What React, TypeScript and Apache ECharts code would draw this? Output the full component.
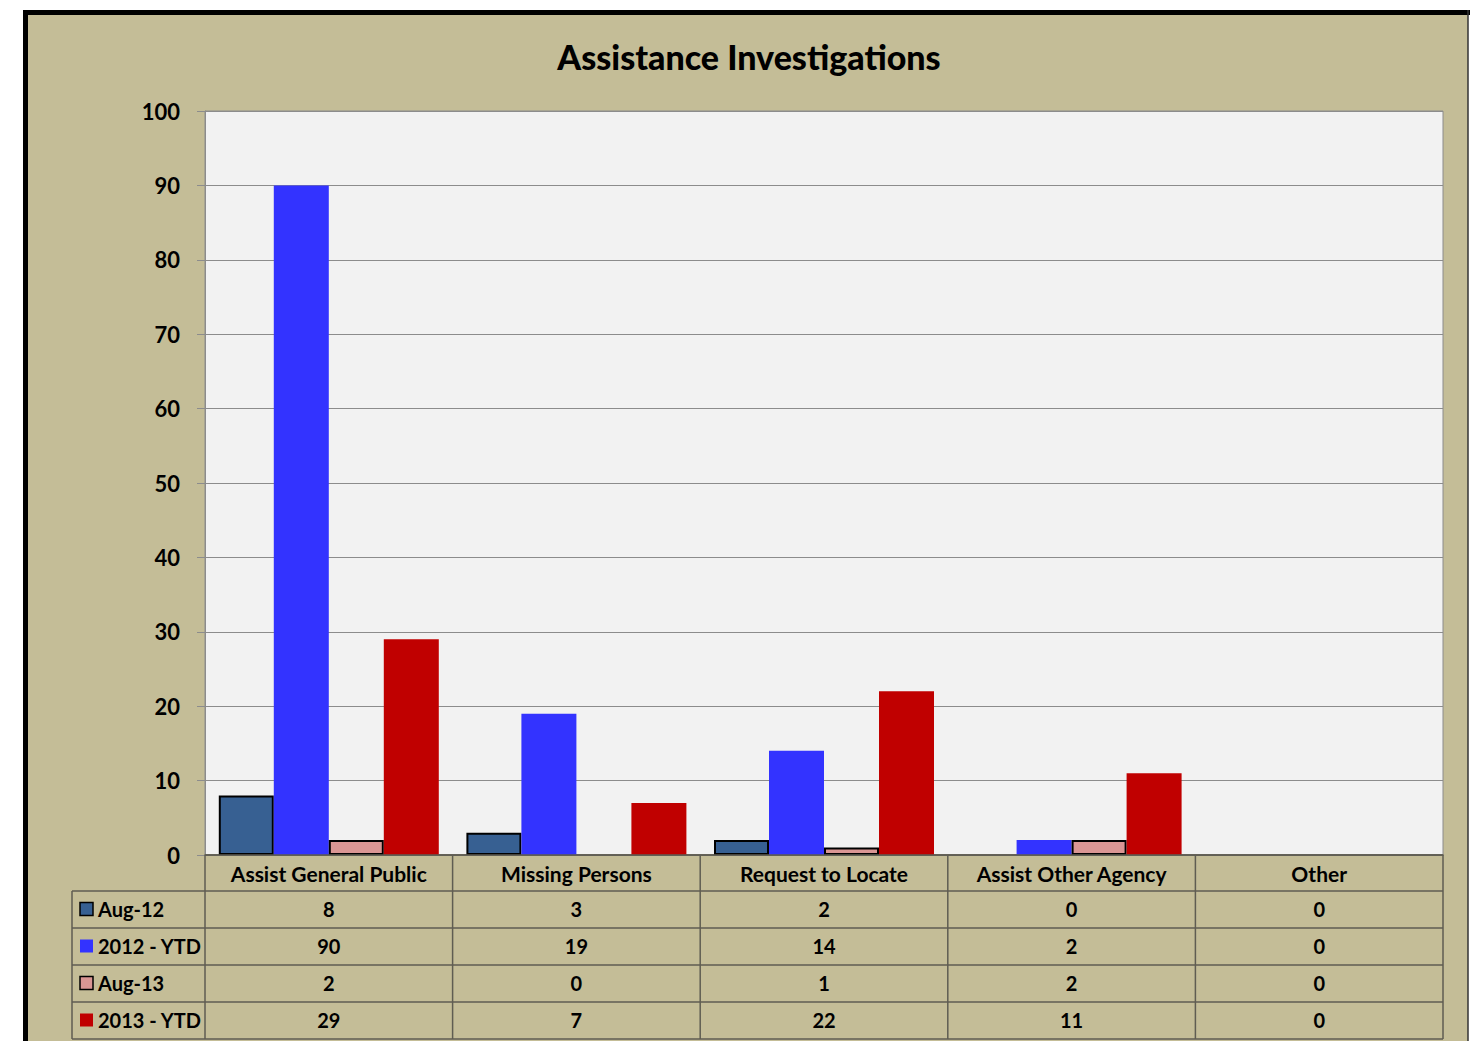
import React, { useEffect, useRef } from "react";
import * as echarts from "echarts";

const categories = ["Assist General Public", "Missing Persons", "Request to Locate", "Assist Other Agency", "Other"];
const seriesNames = ["Aug-12", "2012 - YTD", "Aug-13", "2013 - YTD"];
const aug12 = [8, 3, 2, 0, 0];
const ytd2012 = [90, 19, 14, 2, 0];
const aug13 = [2, 0, 1, 2, 0];
const ytd2013 = [29, 7, 22, 11, 0];
const seriesValues = [aug12, ytd2012, aug13, ytd2013];
const seriesColors = ["#376092", "#3333FF", "#DA9694", "#C00000"];
const seriesBorders = [true, false, true, false];

const W = 1470;
const H = 1041;
const FONT = "Lato";
const gridL = 205;
const gridR = 1443;
const gridT = 111;
const base = 855;
const headerH = 36;
const rowH = 37;
const tableL = 72;
const lineCol = "#5F5D52";

export default function App() {
  const ref = useRef<HTMLDivElement>(null);
  useEffect(() => {
    if (!ref.current) return;
    const chart = echarts.init(ref.current, null, { renderer: "svg" });
    const colW = (gridR - gridL) / categories.length;
    const graphics: any[] = [];
    // frame
    graphics.push({ type: "rect", z: -10, shape: { x: 23, y: 10, width: 1445, height: H }, style: { fill: "#C4BD97" } });
    graphics.push({ type: "rect", z: -9, shape: { x: 23, y: 10, width: W - 23, height: 5 }, style: { fill: "#000" } });
    graphics.push({ type: "rect", z: -9, shape: { x: 23, y: 10, width: 5, height: H }, style: { fill: "#000" } });
    graphics.push({ type: "line", z: -9, shape: { x1: 1468, y1: 10, x2: 1468, y2: H }, style: { stroke: "#333", lineWidth: 1.5 } });

    const tableBottom = base + headerH + rowH * seriesNames.length;
    const hl = (x1: number, y: number, x2: number) =>
      graphics.push({ type: "line", z: 50, shape: { x1, y1: y, x2, y2: y }, style: { stroke: lineCol, lineWidth: 1.5 } });
    const vl = (x: number, y1: number, y2: number) =>
      graphics.push({ type: "line", z: 50, shape: { x1: x, y1, x2: x, y2 }, style: { stroke: lineCol, lineWidth: 1.5 } });
    hl(gridL, base, gridR);
    for (let r = 0; r <= seriesNames.length; r++) hl(tableL, base + headerH + r * rowH, gridR);
    vl(tableL, base + headerH, tableBottom);
    for (let c = 0; c <= categories.length; c++) vl(gridL + c * colW, base, tableBottom);

    seriesNames.forEach((name, r) => {
      const cy = base + headerH + r * rowH + rowH / 2;
      graphics.push({
        type: "rect", z: 50,
        shape: { x: 80, y: cy - 7, width: 13, height: 13 },
        style: { fill: seriesColors[r], stroke: seriesBorders[r] ? "#000" : null, lineWidth: seriesBorders[r] ? 1.5 : 0 },
      });
      graphics.push({
        type: "text", z: 50, x: 98, y: cy - 1,
        style: { text: name, fontFamily: FONT, fontWeight: "bold", fontSize: 20, fill: "#000", textAlign: "left", textVerticalAlign: "middle" },
      });
      seriesValues[r].forEach((v, c) => {
        graphics.push({
          type: "text", z: 50, x: gridL + c * colW + colW / 2, y: cy - 1,
          style: { text: String(v), fontFamily: FONT, fontWeight: "bold", fontSize: 20, fill: "#000", textAlign: "center", textVerticalAlign: "middle" },
        });
      });
    });

    chart.setOption({
      animation: false,
      backgroundColor: "#FFFFFF",
      title: {
        text: "Assistance Investigations",
        left: 744, top: 34, textAlign: "center",
        textStyle: { fontFamily: FONT, fontWeight: 900, fontSize: 34, color: "#000" },
      },
      grid: {
        left: gridL, right: W - gridR, top: gridT, bottom: H - base,
        show: true, backgroundColor: "#F2F2F2", borderColor: "#8C8C8C", borderWidth: 1,
      },
      xAxis: {
        type: "category",
        data: categories,
        axisLine: { show: true, lineStyle: { color: lineCol, width: 1.5 } },
        axisTick: { show: false },
        axisLabel: {
          interval: 0, margin: 8, lineHeight: 21,
          fontFamily: FONT, fontWeight: "bold", fontSize: 21, color: "#000",
        },
      },
      yAxis: {
        type: "value",
        min: 0, max: 100, interval: 10,
        axisLine: { show: true, lineStyle: { color: "#8C8C8C", width: 1 } },
        axisTick: { show: true, length: 8, lineStyle: { color: "#8C8C8C" } },
        splitLine: { show: true, lineStyle: { color: "#8C8C8C", width: 1 } },
        axisLabel: { margin: 25, fontFamily: FONT, fontWeight: "bold", fontSize: 22, color: "#000" },
      },
      series: seriesNames.map((name, i) => ({
        name,
        type: "bar",
        barWidth: 55,
        barGap: "0%",
        data: seriesValues[i].map((v) => (v === 0 ? null : v)),
        itemStyle: {
          color: seriesColors[i],
          borderColor: seriesBorders[i] ? "#000" : seriesColors[i],
          borderWidth: seriesBorders[i] ? 2 : 0,
        },
      })),
      graphic: graphics,
    });
    return () => chart.dispose();
  }, []);
  return <div ref={ref} style={{ position: "absolute", left: 0, top: 0, width: W, height: H }} />;
}
